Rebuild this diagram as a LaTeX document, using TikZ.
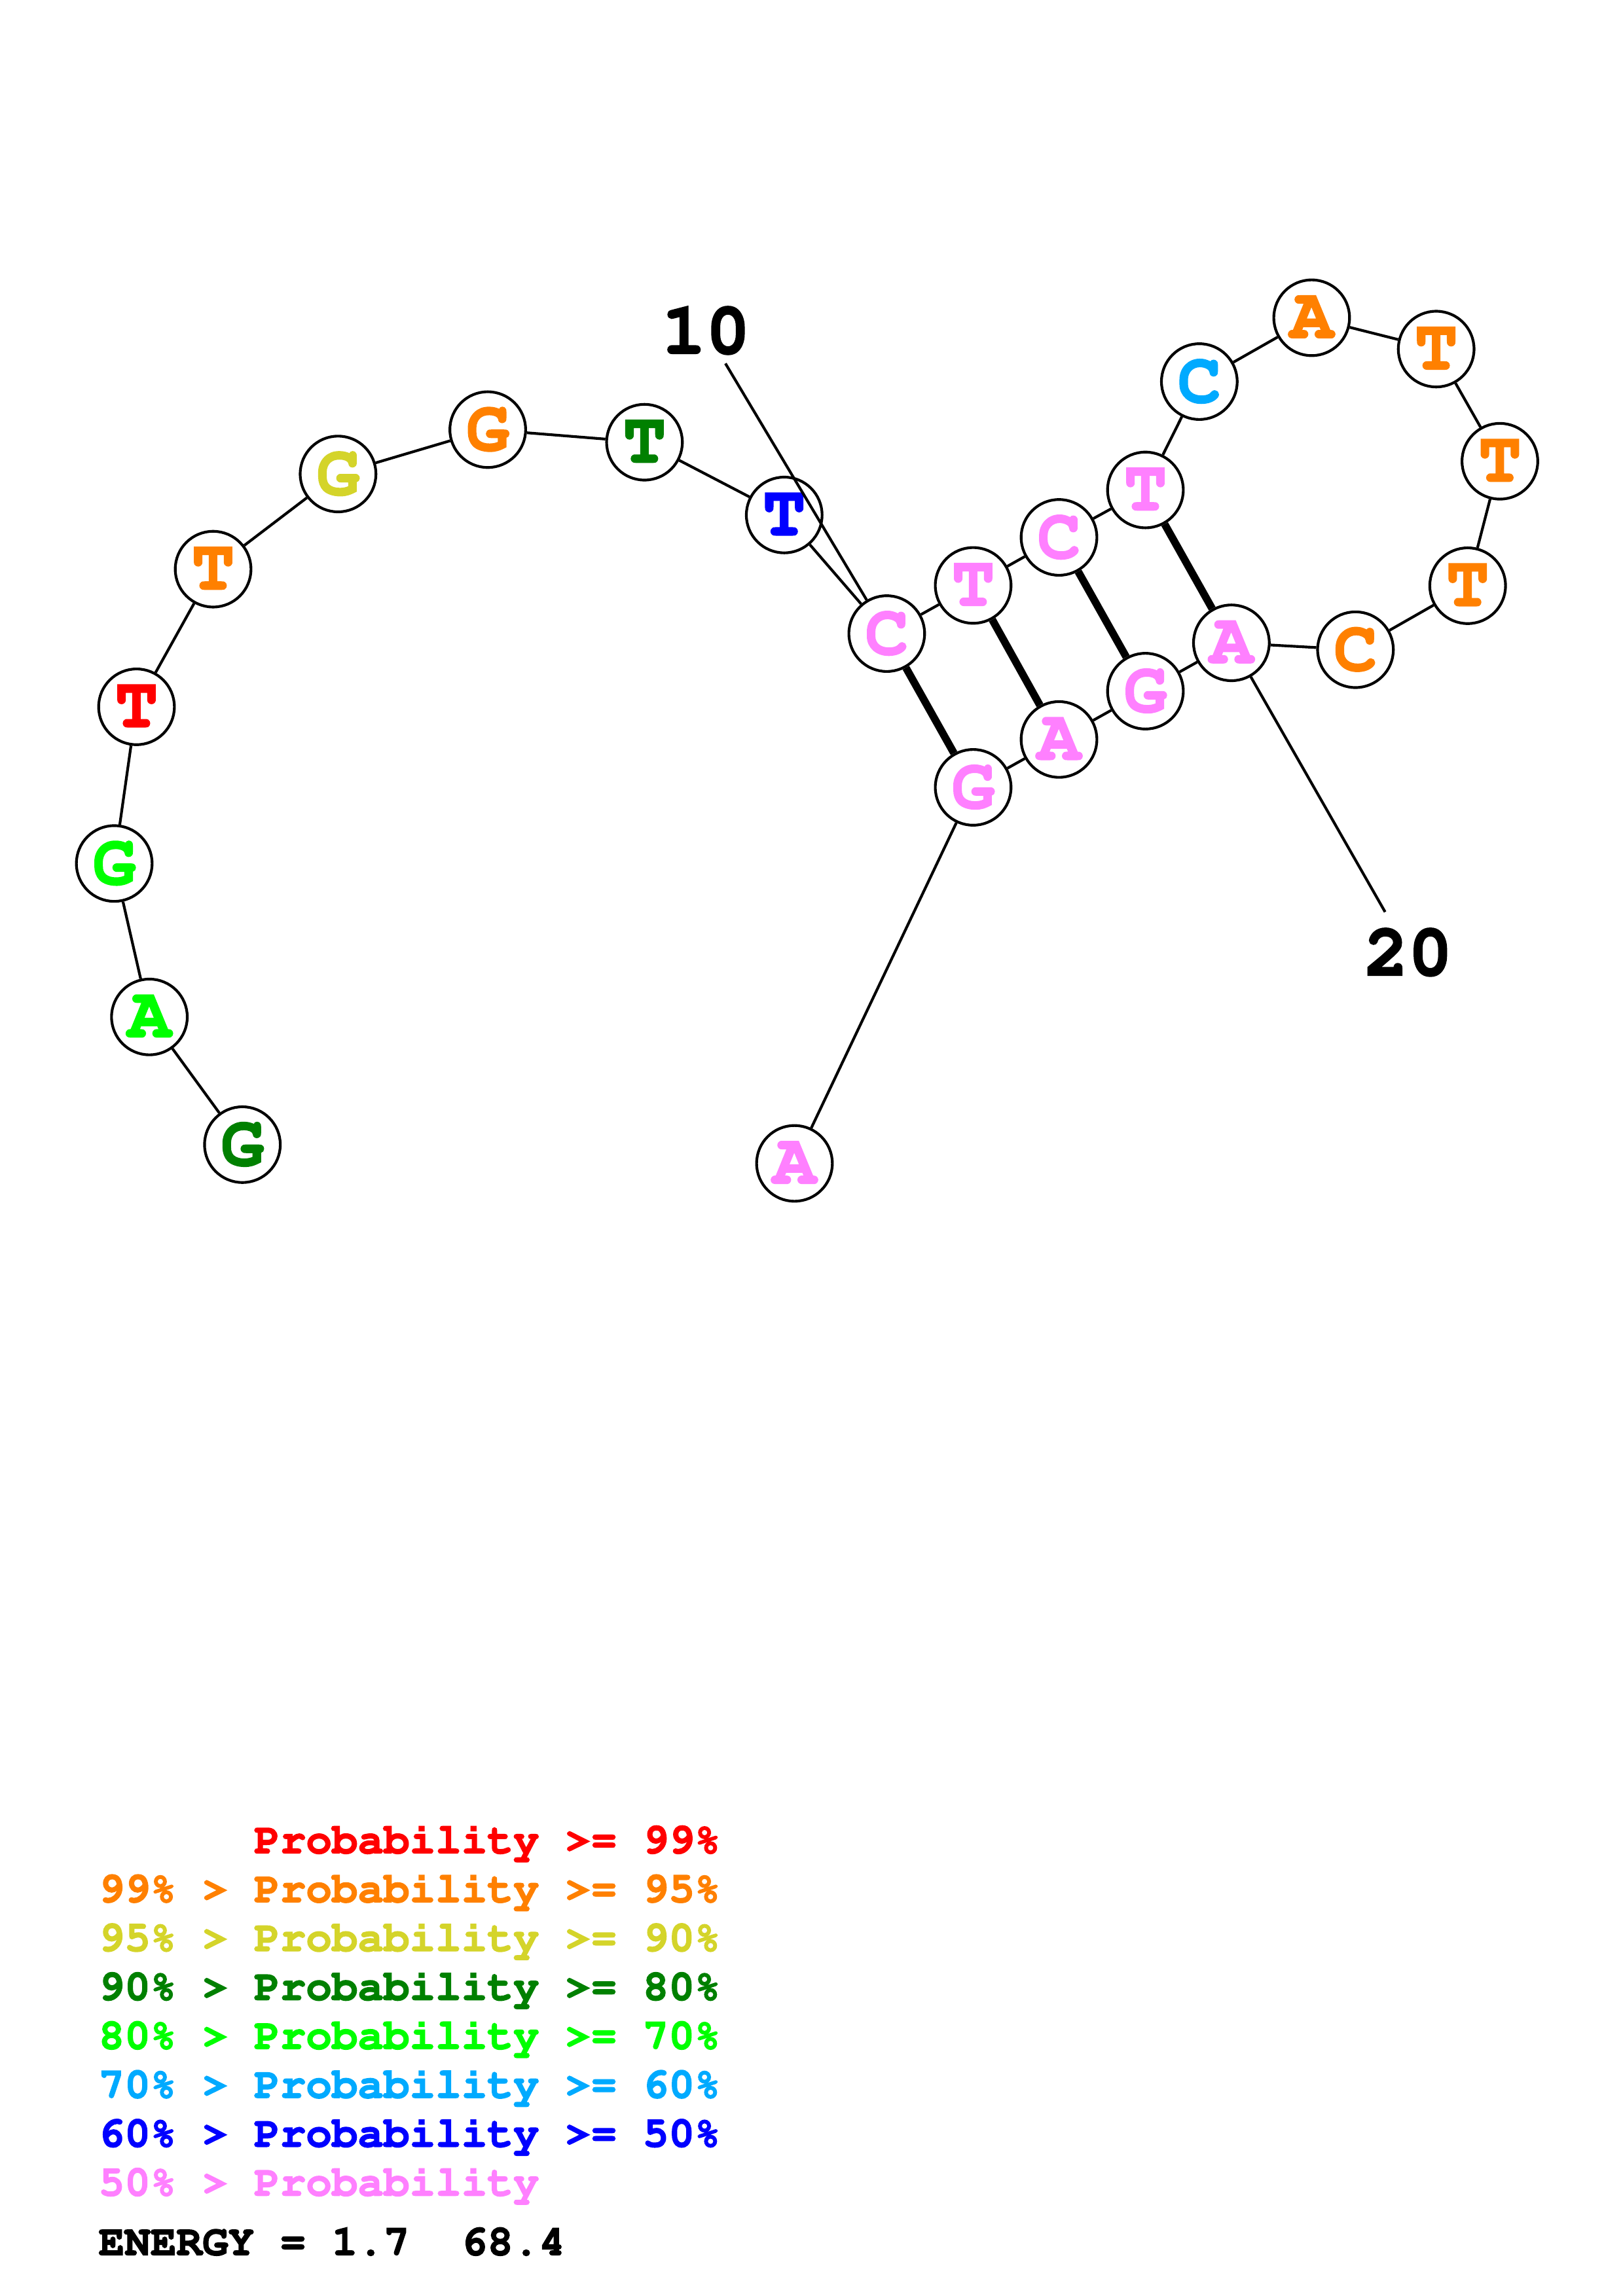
\documentclass[tikz,border=0pt]{standalone}
\usepackage[T1,TU]{fontenc}
\newcommand{\courierbold}{\fontencoding{T1}\fontfamily{pcr}\fontseries{b}\fontshape{n}}
\newcommand{\heavyon}[1]{\special{pdf:literal direct 2 Tr #1 w}}
\newcommand{\heavyoff}{\special{pdf:literal direct 0 Tr}}
\definecolor{prob99}{RGB}{255, 0, 0}
\definecolor{prob95}{RGB}{255, 128, 0}
\definecolor{prob90}{RGB}{212, 212, 42}
\definecolor{prob80}{RGB}{0, 128, 0}
\definecolor{prob70}{RGB}{0, 255, 0}
\definecolor{prob60}{RGB}{0, 170, 255}
\definecolor{prob50}{RGB}{0, 0, 255}
\definecolor{problow}{RGB}{255, 128, 255}
\usepackage{tikz}
\usetikzlibrary{positioning}
\tikzset{
    nuc/.style={draw, circle, fill=white, line width=1pt, minimum size=0.98cm, inner sep=0pt, font=\courierbold\fontsize{26.5}{26.5}\selectfont,
        execute at begin node={\heavyon{0.5}}, execute at end node={\heavyoff}},
    nuc99/.style={nuc, text=prob99},
    nuc95/.style={nuc, text=prob95},
    nuc90/.style={nuc, text=prob90},
    nuc80/.style={nuc, text=prob80},
    nuc70/.style={nuc, text=prob70},
    nuc60/.style={nuc, text=prob60},
    nuc50/.style={nuc, text=prob50},
    nuclow/.style={nuc, text=problow},
    backbone/.style={line width=1pt},
    pairline/.style={line width=2.8pt},
    poslabel/.style={font=\courierbold\fontsize{27}{27}\selectfont, inner sep=3pt,
        execute at begin node={\heavyon{0.6}}, execute at end node={\heavyoff}},
    legendline/.style={anchor=base west, inner sep=0pt, font=\courierbold\fontsize{15.9}{18}\selectfont,
        execute at begin node={\heavyon{0.35}}, execute at end node={\heavyoff}},
}
\begin{document}
\begin{tikzpicture}[x=0.018953cm, y=-0.018953cm]
    \useasboundingbox (0, 0) rectangle (1108, 1568);
    % nucleotides, 5' to 3'
    \node[nuc80] (n1) at (165.5, 781.7) {G};
    \node[nuc70] (n2) at (102, 694.5) {A};
    \node[nuc70] (n3) at (78, 589.7) {G};
    \node[nuc99] (n4) at (93.2, 482.7) {T};
    \node[nuc95] (n5) at (145.5, 388.7) {T};
    \node[nuc90] (n6) at (230.8, 323.7) {G};
    \node[nuc95] (n7) at (333, 293.4) {G};
    \node[nuc80] (n8) at (440, 302) {T};
    \node[nuc50] (n9) at (535.4, 351.7) {T};
    \node[nuclow] (n10) at (605.4, 432.7) {C};
    \node[nuclow] (n11) at (664.4, 399.8) {T};
    \node[nuclow] (n12) at (723, 367) {C};
    \node[nuclow] (n13) at (782, 334.6) {T};
    \node[nuc60] (n14) at (818.8, 260.6) {C};
    \node[nuc95] (n15) at (895.5, 217) {A};
    \node[nuc95] (n16) at (980.5, 238.4) {T};
    \node[nuc95] (n17) at (1024, 315) {T};
    \node[nuc95] (n18) at (1002, 400) {T};
    \node[nuc95] (n19) at (925.4, 443.7) {C};
    \node[nuclow] (n20) at (840.7, 439) {A};
    \node[nuclow] (n21) at (782, 472) {G};
    \node[nuclow] (n22) at (723, 505) {A};
    \node[nuclow] (n23) at (664.4, 537.7) {G};
    \node[nuclow] (n24) at (542.4, 794.5) {A};

    % backbone
    \draw[backbone] (n1) -- (n2) -- (n3) -- (n4) -- (n5) -- (n6) -- (n7) -- (n8);
    \draw[backbone] (n8) -- (n9) -- (n10) -- (n11) -- (n12) -- (n13) -- (n14) -- (n15) -- (n16);
    \draw[backbone] (n16) -- (n17) -- (n18) -- (n19) -- (n20) -- (n21) -- (n22) -- (n23) -- (n24);

    % base pairs
    \draw[pairline] (n10) -- (n23);
    \draw[pairline] (n11) -- (n22);
    \draw[pairline] (n12) -- (n21);
    \draw[pairline] (n13) -- (n20);

    % position labels
    \node[poslabel] (lab10) at (482, 226) {10};
    \node[poslabel, inner sep=6pt] (lab20) at (961.5, 650.6) {20};
    \draw[backbone] (lab10) -- (n10);
    \draw[backbone] (lab20) -- (n20);

    % legend
    \node[legendline, text=prob99] (leg99) at (67, 1265.6) {\phantom{99\%\ >\ }Probability >= 99\%};
    \node[legendline, text=prob95] (leg95) at (67, 1299) {99\% > Probability >= 95\%};
    \node[legendline, text=prob90] (leg90) at (67, 1332.4) {95\% > Probability >= 90\%};
    \node[legendline, text=prob80] (leg80) at (67, 1365.8) {90\% > Probability >= 80\%};
    \node[legendline, text=prob70] (leg70) at (67, 1399.2) {80\% > Probability >= 70\%};
    \node[legendline, text=prob60] (leg60) at (67, 1432.6) {70\% > Probability >= 60\%};
    \node[legendline, text=prob50] (leg50) at (67, 1466) {60\% > Probability >= 50\%};
    \node[legendline, text=problow] (leglow) at (67, 1499.4) {50\% > Probability};
    \node[legendline] (energy) at (67, 1540) {ENERGY = 1.7\ \ 68.4};
\end{tikzpicture}
\end{document}
